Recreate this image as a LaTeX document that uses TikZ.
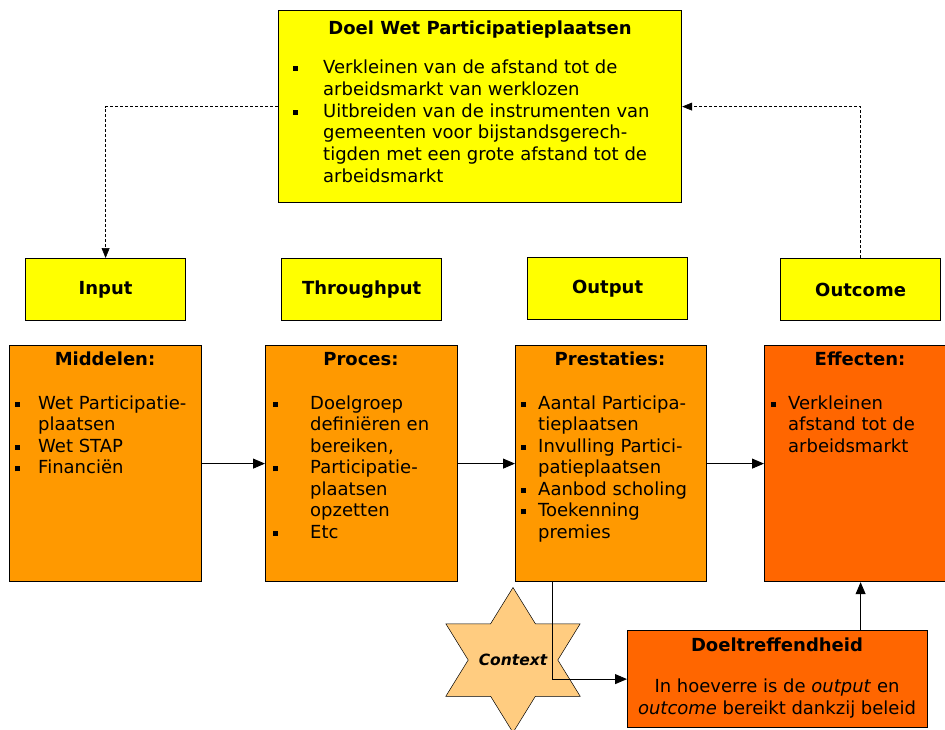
\documentclass[tikz,border=0pt]{standalone}
\usepackage{fontspec}
\setmainfont{DejaVu Sans}
\usetikzlibrary{arrows.meta,shapes.geometric}
\definecolor{geel}{HTML}{FFFF00}
\definecolor{oranje}{HTML}{FF9900}
\definecolor{rood}{HTML}{FF6600}
\definecolor{ster}{HTML}{FFCC80}
\newcommand{\blok}{\rule[2.5pt]{5pt}{5pt}}
\tikzset{
  vak/.style={draw, line width=1.2pt, anchor=north west, inner sep=0pt},
  kop/.style={inner sep=0pt, font=\bfseries\fontsize{18}{20}\selectfont},
  fase/.style={vak, fill=geel, minimum width=160pt, minimum height=62pt, font=\bfseries\fontsize{18}{20}\selectfont},
  lijst/.style={anchor=north west, inner sep=0pt, font=\fontsize{18}{21.5}\selectfont},
  pijl/.style={-{Triangle[length=12pt,width=10pt]}, line width=0.9pt},
  stip/.style={dash pattern=on 3pt off 2pt, -{Triangle[length=10pt,width=8pt]}, line width=0.6pt},
}
\begin{document}
\begin{tikzpicture}[x=1pt,y=-1pt]
  \useasboundingbox (0,0) rectangle (945,729);
  % doel
  \node[vak, fill=geel, minimum width=403pt, minimum height=192pt] (doel) at (278,10) {};
  \node[kop] (doelkop) at (480,30) {Doel Wet Participatieplaatsen};
  \node[lijst, font=\fontsize{18}{21.8}\selectfont] (doellijst) at (293,58) {%
    \begin{tabular}{@{}p{30pt}@{}l@{}}
      \blok & Verkleinen van de afstand tot de\\
            & arbeidsmarkt van werklozen\\
      \blok & Uitbreiden van de instrumenten van\\
            & gemeenten voor bijstandsgerech-\\
            & tigden met een grote afstand tot de\\
            & arbeidsmarkt
    \end{tabular}};
  % fasen
  \node[fase] (input) at (25,258) {Input};
  \node[fase] (throughput) at (281,258) {Throughput};
  \node[fase] (output) at (527,257) {Output};
  \node[fase] (outcome) at (780,258) {Outcome};
  % blokken
  \node[vak, fill=oranje, minimum width=192pt, minimum height=236pt] (middelen) at (9,345) {};
  \node[kop] (middelenkop) at (105,359) {Middelen:};
  \node[lijst] (middelenlijst) at (15,394) {%
    \begin{tabular}{@{}p{23pt}@{}l@{}}
      \blok & Wet Participatie-\\
            & plaatsen\\
      \blok & Wet STAP\\
      \blok & Financiën
    \end{tabular}};
  \node[vak, fill=oranje, minimum width=192pt, minimum height=236pt] (proces) at (265,345) {};
  \node[kop] (proceskop) at (361,359) {Proces:};
  \node[lijst] (proceslijst) at (273,394) {%
    \begin{tabular}{@{}p{37pt}@{}l@{}}
      \blok & Doelgroep\\
            & definiëren en\\
            & bereiken,\\
      \blok & Participatie-\\
            & plaatsen\\
            & opzetten\\
      \blok & Etc
    \end{tabular}};
  \node[vak, fill=oranje, minimum width=191pt, minimum height=236pt] (prestaties) at (515,345) {};
  \node[kop] (prestatieskop) at (610,359) {Prestaties:};
  \node[lijst] (prestatieslijst) at (521,394) {%
    \begin{tabular}{@{}p{17pt}@{}l@{}}
      \blok & Aantal Participa-\\
            & tieplaatsen\\
      \blok & Invulling Partici-\\
            & patieplaatsen\\
      \blok & Aanbod scholing\\
      \blok & Toekenning\\
            & premies
    \end{tabular}};
  \node[vak, fill=rood, minimum width=192pt, minimum height=236pt] (effecten) at (764,345) {};
  \node[kop] (effectenkop) at (860,359) {Effecten:};
  \node[lijst] (effectenlijst) at (771,394) {%
    \begin{tabular}{@{}p{17pt}@{}l@{}}
      \blok & Verkleinen\\
            & afstand tot de\\
            & arbeidsmarkt
    \end{tabular}};
  % context en doeltreffendheid
  \node[star, star points=6, star point ratio=1.732, minimum size=145pt, draw, line width=0.5pt, fill=ster, inner sep=0pt,
        xscale=1.07, transform shape] (context) at (513,660) {};
  \node[inner sep=0pt, font=\bfseries\itshape\fontsize{15.5}{16}\selectfont] (contexttekst) at (context.center) {Context};
  \node[vak, fill=rood, minimum width=300pt, minimum height=97pt] (doeltref) at (627,630) {};
  \node[kop] (doeltrefkop) at (777,645) {Doeltreffendheid};
  \node[inner sep=0pt, align=center, font=\fontsize{18}{22}\selectfont] (doeltreftekst) at (777,699)
    {In hoeverre is de \textit{output} en\\ \textit{outcome} bereikt dankzij beleid};
  \begin{scope}
    \draw[stip] (doel.west) -| (input.north);
    \draw[stip] (outcome.north) |- (doel.east);
    \draw[pijl] (middelen) -- (proces);
    \draw[pijl] (proces) -- (prestaties);
    \draw[pijl] (prestaties) -- (effecten);
    \draw[pijl] ([xshift=-59pt]prestaties.south) |- (doeltref.west);
    \draw[pijl] (doeltref.north -| effecten.south) -- (effecten.south);
  \end{scope}
\end{tikzpicture}
\end{document}
